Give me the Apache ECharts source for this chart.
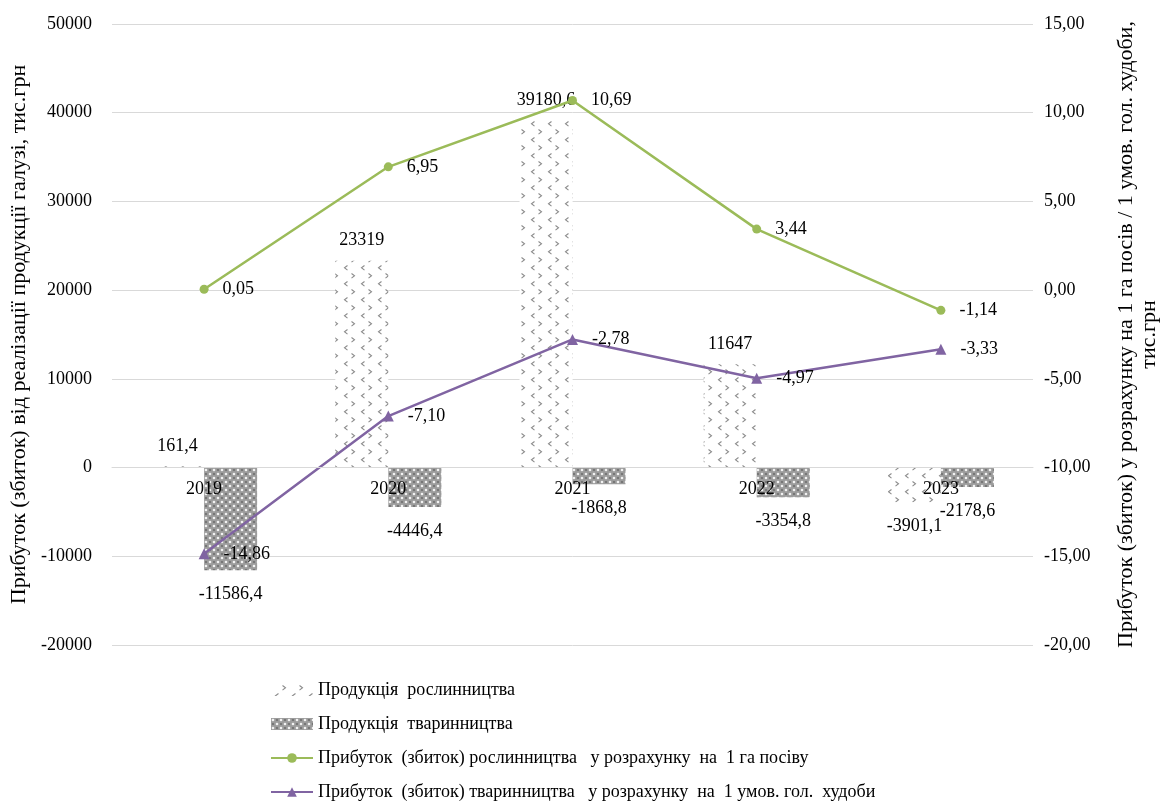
<!DOCTYPE html>
<html lang="uk">
<head>
<meta charset="utf-8">
<title>Прибуток (збиток) від реалізації продукції</title>
<script src="https://cdn.jsdelivr.net/npm/echarts@6/dist/echarts.min.js"></script>
<style>
  html, body { margin: 0; padding: 0; background: #fff; }
  #chart { width: 1169px; height: 806px; }
</style>
</head>
<body>
<div id="chart"></div>
<script>
// Years on the category axis
const years = ['2019', '2020', '2021', '2022', '2023'];

// Profit (loss) from sales, thousand UAH
const cropProfit = [161.4, 23319, 39180.6, 11647, -3901.1];
const livestockProfit = [-11586.4, -4446.4, -1868.8, -3354.8, -2178.6];

// Profit (loss) per 1 ha of crops / per 1 livestock unit, thousand UAH
const cropPerHa = [0.05, 6.95, 10.69, 3.44, -1.14];
const livestockPerHead = [-14.86, -7.10, -2.78, -4.97, -3.33];

// Axis ticks
const leftTicks = { min: -20000, max: 50000, interval: 10000 };
const rightTicks = { min: -20, max: 15, interval: 5 };

const FONT = "'Liberation Serif', 'Times New Roman', serif";
const comma = (v) => String(v).replace('.', ',');
const comma2 = (v) => Number(v).toFixed(2).replace('.', ',');

// Fill pattern: rows of small grey chevrons on white, alternating ">" and "<"
function chevronPattern() {
  const w = 17, h = 16;
  const c = document.createElement('canvas');
  c.width = w; c.height = h;
  const g = c.getContext('2d');
  g.fillStyle = '#ffffff';
  g.fillRect(0, 0, w, h);
  g.strokeStyle = '#8c8c8c';
  g.lineWidth = 1.1;
  g.beginPath();
  g.moveTo(11.5, 1.5); g.lineTo(14.5, 3.8); g.lineTo(11.5, 6.1);
  g.stroke();
  g.beginPath();
  g.moveTo(7.5, 9.5); g.lineTo(4.5, 11.8); g.lineTo(7.5, 14.1);
  g.stroke();
  return c;
}

// Fill pattern: dense grey mesh with light dots
function meshPattern() {
  const c = document.createElement('canvas');
  c.width = 8; c.height = 8;
  const g = c.getContext('2d');
  g.fillStyle = '#9c9c9c';
  g.fillRect(0, 0, 8, 8);
  g.fillStyle = '#f2f2f2';
  [[2, 2], [6, 6]].forEach(([x, y]) => {
    g.beginPath(); g.arc(x, y, 1.3, 0, Math.PI * 2); g.fill();
  });
  g.fillStyle = '#6e6e6e';
  [[6, 2], [2, 6]].forEach(([x, y]) => {
    g.beginPath(); g.arc(x, y, 1.1, 0, Math.PI * 2); g.fill();
  });
  return c;
}

const cropFill = { image: chevronPattern(), repeat: 'repeat' };
const meshFill = { image: meshPattern(), repeat: 'repeat' };

function barData(values) {
  return values.map((v) => ({
    value: v,
    label: v < 0
      ? { position: 'bottom', distance: 15 }
      : { position: 'top', distance: 11 }
  }));
}

const chart = echarts.init(document.getElementById('chart'), null, { renderer: 'canvas' });

chart.setOption({
  animation: false,
  backgroundColor: '#ffffff',
  textStyle: { fontFamily: FONT, color: '#000' },
  grid: { left: 112, right: 135, top: 24, bottom: 161, containLabel: false },
  legend: {
    orient: 'vertical',
    left: 270,
    top: 681,
    padding: 0,
    height: 125,
    itemWidth: 42,
    itemHeight: 12,
    itemGap: 16,
    textStyle: { fontFamily: FONT, fontSize: 18, color: '#000' },
    data: [
      { name: 'Продукція  рослинництва', icon: 'rect' },
      { name: 'Продукція  тваринництва', icon: 'rect' },
      'Прибуток  (збиток) рослинництва   у розрахунку  на  1 га посіву',
      'Прибуток  (збиток) тваринництва   у розрахунку  на  1 умов. гол.  худоби'
    ]
  },
  xAxis: {
    type: 'category',
    data: years,
    z: 10,
    axisLine: { onZero: false, lineStyle: { color: '#d9d9d9', width: 1 } },
    axisTick: { show: false },
    axisLabel: { margin: 13, fontFamily: FONT, fontSize: 18, color: '#000' },
    splitLine: { show: false }
  },
  yAxis: [
    {
      type: 'value',
      min: leftTicks.min,
      max: leftTicks.max,
      interval: leftTicks.interval,
      name: 'Прибуток (збиток) від реалізації продукції галузі, тис.грн',
      nameLocation: 'middle',
      nameRotate: 90,
      nameGap: 82,
      nameTextStyle: { fontFamily: FONT, fontSize: 22, color: '#000' },
      axisLine: { show: false },
      axisTick: { show: false },
      axisLabel: { margin: 20, fontFamily: FONT, fontSize: 18, color: '#000', formatter: (v) => String(v) },
      splitLine: { lineStyle: { color: '#d9d9d9', width: 1 } }
    },
    {
      type: 'value',
      position: 'right',
      min: rightTicks.min,
      max: rightTicks.max,
      interval: rightTicks.interval,
      name: 'Прибуток (збиток) у розрахунку на 1 га посів / 1 умов. гол. худоби,\nтис.грн',
      nameLocation: 'middle',
      nameRotate: 90,
      nameGap: 82,
      nameTextStyle: { fontFamily: FONT, fontSize: 22, color: '#000', lineHeight: 23, align: 'center' },
      axisLine: { show: false },
      axisTick: { show: false },
      axisLabel: { margin: 11, fontFamily: FONT, fontSize: 18, color: '#000', formatter: comma2 },
      splitLine: { show: false }
    }
  ],
  series: [
    {
      name: 'Продукція  рослинництва',
      type: 'bar',
      yAxisIndex: 0,
      barWidth: 53,
      barGap: '0%',
      itemStyle: { color: cropFill },
      label: {
        show: true, fontFamily: FONT, fontSize: 18, color: '#000',
        formatter: (p) => comma(p.value)
      },
      data: barData(cropProfit),
      z: 2
    },
    {
      name: 'Продукція  тваринництва',
      type: 'bar',
      yAxisIndex: 0,
      barWidth: 53,
      barGap: '0%',
      itemStyle: { color: meshFill },
      label: {
        show: true, fontFamily: FONT, fontSize: 18, color: '#000',
        formatter: (p) => comma(p.value)
      },
      data: barData(livestockProfit),
      z: 2
    },
    {
      name: 'Прибуток  (збиток) рослинництва   у розрахунку  на  1 га посіву',
      type: 'line',
      yAxisIndex: 1,
      data: cropPerHa,
      symbol: 'circle',
      symbolSize: 9,
      lineStyle: { color: '#9bbb59', width: 2.5 },
      itemStyle: { color: '#9bbb59' },
      label: {
        show: true, position: 'right', distance: 14,
        fontFamily: FONT, fontSize: 18, color: '#000',
        formatter: (p) => comma2(p.value)
      },
      z: 5
    },
    {
      name: 'Прибуток  (збиток) тваринництва   у розрахунку  на  1 умов. гол.  худоби',
      type: 'line',
      yAxisIndex: 1,
      data: livestockPerHead,
      symbol: 'triangle',
      symbolSize: 11,
      lineStyle: { color: '#8064a2', width: 2.5 },
      itemStyle: { color: '#8064a2' },
      label: {
        show: true, position: 'right', distance: 14,
        fontFamily: FONT, fontSize: 18, color: '#000',
        formatter: (p) => comma2(p.value)
      },
      z: 5
    }
  ]
});

// Put the category axis on the zero line of the left value axis
const zeroY = chart.convertToPixel({ yAxisIndex: 0 }, 0);
const floorY = chart.convertToPixel({ yAxisIndex: 0 }, leftTicks.min);
chart.setOption({ xAxis: { offset: -(floorY - zeroY) } });
</script>
</body>
</html>
